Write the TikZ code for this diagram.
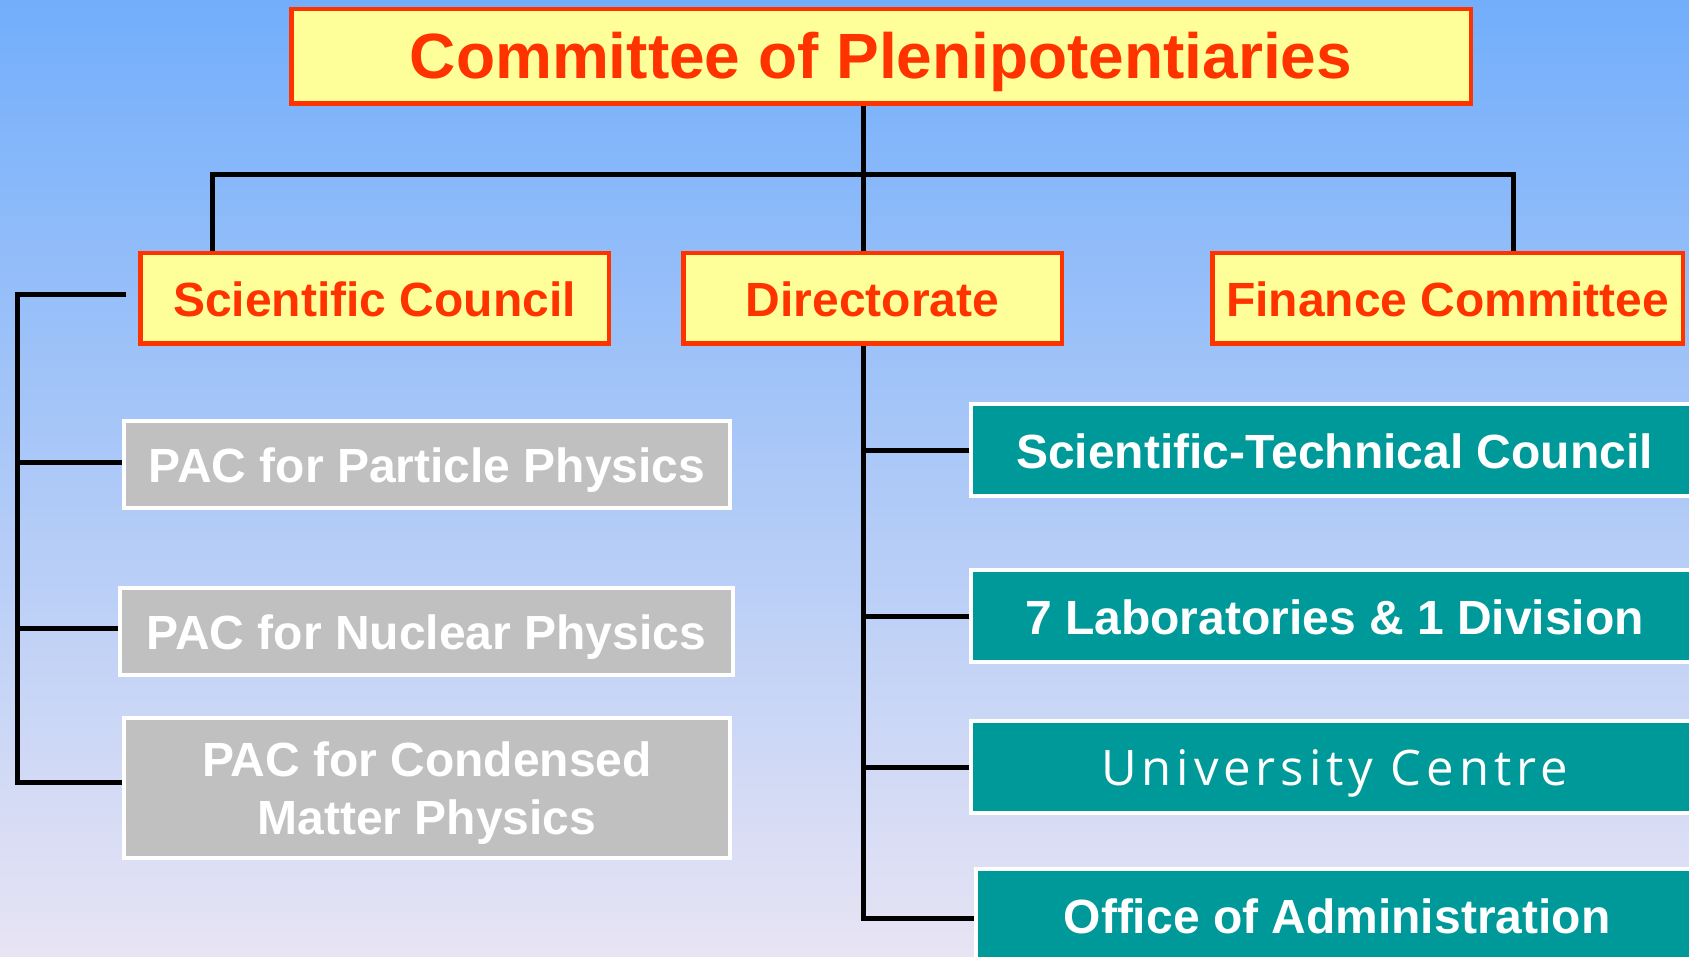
\documentclass[tikz,border=0pt]{standalone}
\usepackage{fontspec}
\setmainfont{Liberation Sans}
\newfontfamily\ucfont[LetterSpace=10]{Open Sans}
\definecolor{ored}{HTML}{FF3300}
\definecolor{yel}{HTML}{FFFF99}
\definecolor{gry}{HTML}{C0C0C0}
\definecolor{jteal}{HTML}{009999}
\definecolor{bgtop}{HTML}{72AEFB}
\definecolor{bgbot}{HTML}{E8E4F4}
\pgfdeclarelayer{back}
\pgfdeclarelayer{lines}
\pgfsetlayers{back,lines,main}
\tikzset{
  onel/.style={text height=36pt, text depth=0pt},
  ybox/.style={draw=ored, fill=yel, line width=4.5pt, text=ored, inner sep=0pt, outer sep=0pt,
    onel, font=\bfseries\fontsize{48}{58}\selectfont},
  gbox/.style={draw=white, fill=gry, line width=4pt, text=white, inner sep=0pt, outer sep=0pt,
    font=\bfseries\fontsize{48}{58}\selectfont},
  tbox/.style={draw=white, fill=jteal, line width=4pt, text=white, inner sep=0pt, outer sep=0pt,
    onel, minimum height=92pt, font=\bfseries\fontsize{48}{58}\selectfont},
  conn/.style={draw=black, line width=5pt},
}
\begin{document}
\begin{tikzpicture}[x=1pt, y=-1pt]
\useasboundingbox (0,0) rectangle (1689,957);
\clip (0,0) rectangle (1689,957);
\begin{pgfonlayer}{back}
\fill[top color=bgtop, bottom color=bgbot] (0,0) rectangle (1689,957);
\end{pgfonlayer}

% nodes
\node[ybox, minimum width=1179.5pt, minimum height=94.5pt, text height=46pt, text depth=1pt,
  font=\bfseries\fontsize{64}{70}\selectfont]
  (top) at (881,56.5) {Committee of Plenipotentiaries};
\node[ybox, minimum width=468.5pt, minimum height=90.5pt] (sc)  at (374.5,298.5) {Scientific Council};
\node[ybox, minimum width=378.5pt, minimum height=90.5pt] (dir) at (872.5,298.5) {Directorate};
\node[ybox, minimum width=470.5pt, minimum height=90.5pt] (fc)  at (1447.5,298.5) {Finance Committee};

\node[gbox, onel, minimum width=606pt, minimum height=87pt]  (pacP) at (427,464.5) {PAC for Particle Physics};
\node[gbox, onel, minimum width=613pt, minimum height=87pt]  (pacN) at (426.5,631.5) {PAC for Nuclear Physics};
\node[gbox, align=center, minimum width=606pt, minimum height=140pt] (pacC) at (427,788)
  {PAC for Condensed\rule{0pt}{45pt}\\Matter Physics};

\node[tbox, minimum width=727pt] (stc)  at (1334.5,450) {Scientific-Technical Council};
\node[tbox, minimum width=727pt] (labs) at (1334.5,616) {7 Laboratories \& 1 Division};
\node[tbox, minimum width=727pt, font=\ucfont\fontsize{49}{58}\selectfont] (uc) at (1334.5,767) {University Centre};
\node[tbox, minimum width=722pt] (oa)   at (1337,915) {Office of Administration};

% bus coordinates
\coordinate (tb) at (863,175);
\coordinate (busL) at (212,175);
\coordinate (busR) at (1513,175);
\coordinate (lb) at (17,295);
\coordinate (rb) at (863,600);

\begin{pgfonlayer}{lines}
\draw[conn] (top.south -| tb) -- (dir.north -| tb);
\draw[conn] (sc.north -| busL) |- (tb) -| (fc.north -| busR);
\draw[conn] ([xshift=-14pt,yshift=3.5pt]sc.west) -| ([yshift=6pt]pacC.west -| lb) -- ([yshift=6pt]pacC.west);
\draw[conn] ([yshift=2pt]pacP.west -| lb) -- ([yshift=2pt]pacP.west);
\draw[conn] ([yshift=3pt]pacN.west -| lb) -- ([yshift=3pt]pacN.west);
\draw[conn] (dir.south -| rb) |- ([yshift=-3pt]oa.west);
\draw[conn] (stc.west -| rb) -- (stc.west);
\draw[conn] (labs.west -| rb) -- (labs.west);
\draw[conn] (uc.west -| rb) -- (uc.west);
\end{pgfonlayer}
\end{tikzpicture}
\end{document}
